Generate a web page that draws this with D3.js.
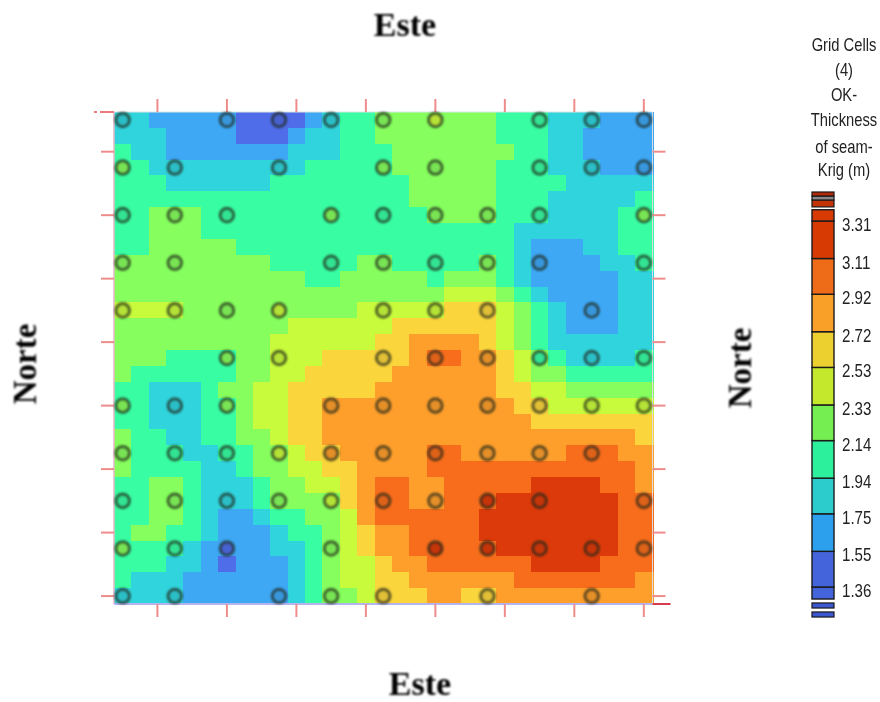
<!DOCTYPE html>
<html>
<head>
<meta charset="utf-8">
<script src="https://cdn.jsdelivr.net/npm/d3@7"></script>
<style>
  html, body { margin: 0; background: #fff; }
  svg { display: block; }
  .soft { filter: blur(0.45px); }
  .softer { filter: blur(0.8px); }
</style>
</head>
<body>
<svg width="880" height="702"></svg>
<script>
// legend class breaks (m)
const breaks = [1.55, 1.75, 1.94, 2.14, 2.33, 2.53, 2.72, 2.92, 3.11];
const legendLabels = [3.31, 3.11, 2.92, 2.72, 2.53, 2.33, 2.14, 1.94, 1.75, 1.55, 1.36];
const classMid = [1.46, 1.65, 1.85, 2.04, 2.24, 2.43, 2.63, 2.82, 3.02, 3.21];
const classColors = ["#4f6de8", "#3ea8f5", "#30d4dc", "#38fda2", "#86fe5e", "#c8fb3c", "#fad53c", "#fe9f2c", "#f86d1c", "#dc3a0a"];
const legendColors = ["#4464dc", "#2ca0ec", "#2ccccc", "#2cf09c", "#74ee50", "#c4e82c", "#ecd030", "#f8a028", "#ee6c18", "#d83a04"];
const legendTitle = ["Grid Cells", "(4)", "OK-", "Thickness", "of seam-", "Krig (m)"];

// kriged grid, one character per cell = class index into classMid
const thicknessRows = [
  "2211111000012334444444333222111",
  "2221111000122334444444333221111",
  "3221111111222333444444433221111",
  "3322222222233333444444333222111",
  "3332222223333333344444333322222",
  "3333333333333333344444333222223",
  "3344433333333333334444333222233",
  "3344433333333333333333322222233",
  "3344444333333333333333321112233",
  "4444444443333344333334321111223",
  "4444444444433444443444321111122",
  "4444444444444444444555432111122",
  "5555444444444455555666543211122",
  "4444444444555555666666543211122",
  "4444444445555556677776543222222",
  "4443333445556666678877654322223",
  "4333333445566666777777654433333",
  "3322234455666667777777665544444",
  "3322233455667777777777766555555",
  "3322233455667777777777776666666",
  "4332233445667777777777777777776",
  "4333223344566777778877777788877",
  "4333322344556677778888888888887",
  "3344322234455678877888889999887",
  "3344322234444678877888999999988",
  "3344321123344578888889999999988",
  "3443321112334567788889999999988",
  "3333211112234567788888999999988",
  "3332210111234556778888889999888",
  "3222111111234556677777788888887",
  "2222111111234456667766777777777"
];

// sample holes every third cell, "." where there is none
const holeStep = 3;
const holeRows = [
  "2.10245.321",
  "42.2.44.321",
  "343.43443.4",
  "44..34341.3",
  "5545.556.1.",
  "..45.687323",
  "424.7777655",
  "4335778778.",
  "342458799.8",
  "430.4.99998",
  "22.146.6.7."
];

const tickCells = [2, 6, 10, 14, 18, 22, 26, 30];

const svg = d3.select("svg");
const cells = d3.range(31);
const x = d3.scaleBand().domain(cells).range([114, 652.5]);
const y = d3.scaleBand().domain(cells).range([112, 604]);
const color = d3.scaleThreshold().domain(breaks).range(classColors);
const legendColor = d3.scaleThreshold().domain(breaks).range(legendColors);

// flatten rows to cells with a thickness value
const grid = thicknessRows.flatMap((row, r) =>
  row.split("").map((c, col) => ({ col: col, row: r, value: classMid[+c] })));

const holes = holeRows.flatMap((row, r) =>
  row.split("").map((c, i) => ({ col: i * holeStep, row: r * holeStep, c: c })))
  .filter(d => d.c != ".")
  .map(d => ({ col: d.col, row: d.row, value: classMid[+d.c] }));

svg.append("g").attr("class", "soft").selectAll("rect")
  .data(grid).enter()
  .append("rect")
    .attr("x", d => x(d.col))
    .attr("y", d => y(d.row))
    .attr("width", x.bandwidth() + 1)
    .attr("height", y.bandwidth() + 1)
    .attr("shape-rendering", "crispEdges")
    .attr("fill", d => color(d.value));

// frame edges
const frame = svg.append("g").attr("class", "soft");
frame.append("line").attr("x1", x.range()[0]).attr("x2", x.range()[0]).attr("y1", y.range()[0]).attr("y2", y.range()[1])
  .attr("stroke", "#e6b6c8").attr("stroke-width", 1.5);
frame.append("line").attr("x1", x.range()[0]).attr("x2", x.range()[1]).attr("y1", y.range()[1]).attr("y2", y.range()[1])
  .attr("stroke", "#b4b4ee").attr("stroke-width", 2);
frame.append("line").attr("x1", x.range()[0]).attr("x2", x.range()[1]).attr("y1", y.range()[0]).attr("y2", y.range()[0])
  .attr("stroke", "#d8e6e6").attr("stroke-width", 1);
frame.append("line").attr("x1", x.range()[1]).attr("x2", x.range()[1]).attr("y1", y.range()[0]).attr("y2", y.range()[1])
  .attr("stroke", "#dcdce0").attr("stroke-width", 1);

// axes carry ticks only, no labels
function tickAxis(axis, tx, ty) {
  const g = svg.append("g")
    .attr("class", "soft")
    .attr("transform", "translate(" + tx + "," + ty + ")")
    .call(axis.tickValues(tickCells).tickFormat("").tickSize(13));
  g.select(".domain").remove();
  g.selectAll("line").attr("stroke", "#ee8c8c").attr("stroke-width", 2);
}
tickAxis(d3.axisTop(x), 0, y.range()[0]);
tickAxis(d3.axisBottom(x), 0, y.range()[1]);
tickAxis(d3.axisLeft(y), x.range()[0], 0);
tickAxis(d3.axisRight(y), x.range()[1], 0);

// the two corner ticks
frame.append("line").attr("x1", x.range()[0] - 20).attr("x2", x.range()[0]).attr("y1", y.range()[0]).attr("y2", y.range()[0])
  .attr("stroke", "#ee7c7c").attr("stroke-width", 2).attr("stroke-dasharray", "3 3 14");
frame.append("line").attr("x1", x.range()[1]).attr("x2", x.range()[1] + 18).attr("y1", y.range()[1]).attr("y2", y.range()[1])
  .attr("stroke", "#d83c50").attr("stroke-width", 2);

svg.append("g").attr("class", "softer").selectAll("circle")
  .data(holes).enter()
  .append("circle")
    .attr("cx", d => x(d.col) + x.bandwidth() / 2)
    .attr("cy", d => y(d.row) + y.bandwidth() / 2)
    .attr("r", 6.8)
    .attr("fill", d => d3.color(color(d.value)).darker(0.3))
    .attr("stroke", "#22281a")
    .attr("stroke-opacity", 0.68)
    .attr("stroke-width", 3);

// titles
const serif = "'Liberation Serif', 'Times New Roman', serif";
const titles = svg.append("g").attr("class", "softer");
titles.append("text").attr("x", 405).attr("y", 36).attr("text-anchor", "middle")
  .style("font", "bold 34px " + serif).text("Este");
titles.append("text").attr("x", 420).attr("y", 694.5).attr("text-anchor", "middle")
  .style("font", "bold 34px " + serif).text("Este");
titles.append("text").attr("transform", "translate(36,364) rotate(-90)").attr("text-anchor", "middle")
  .style("font", "bold 33px " + serif).text("Norte");
titles.append("text").attr("transform", "translate(751,368) rotate(-90)").attr("text-anchor", "middle")
  .style("font", "bold 33px " + serif).text("Norte");

// legend
const legendX = 812, legendW = 22;
const legendY = d3.scaleLinear().domain([1.36, 3.31]).range([587, 221]);
const sans = "'Liberation Sans', Arial, sans-serif";
const legend = svg.append("g").attr("class", "soft");

// legend text in the picture is tall and narrow, squeeze it sideways
const legendTitleY = [45, 70, 95, 120, 147, 170];
legend.append("g").selectAll("text")
  .data(legendTitle).enter()
  .append("text")
    .attr("transform", (d, i) => "translate(844," + (legendTitleY[i] + 6) + ") scale(0.82,1)")
    .attr("text-anchor", "middle")
    .attr("fill", "#222")
    .style("font", "18px " + sans)
    .text(d => d);

// bands: lower edge, upper edge
const bandEdges = [1.296].concat(legendLabels.slice().reverse()).concat([3.37]);
const bands = d3.pairs(bandEdges).map(p => ({ lo: p[0], hi: p[1] }));

legend.append("g").selectAll("rect")
  .data(bands).enter()
  .append("rect")
    .attr("x", legendX)
    .attr("y", d => legendY(d.hi))
    .attr("width", legendW)
    .attr("height", d => legendY(d.lo) - legendY(d.hi))
    .attr("fill", d => legendColor((d.lo + d.hi) / 2))
    .attr("stroke", "#1a1a1a")
    .attr("stroke-width", 1.4);

// overflow strips above and below the bar: [lower value, upper value, colour]
const topStrips = [[3.385, 3.422, "#c43208"], [3.422, 3.443, "#888888"], [3.443, 3.4645, "#b02a08"]];
const bottomStrips = [[1.248, 1.275, "#3c58d0"], [1.20, 1.227, "#3c58d0"]];
legend.append("g").selectAll("rect")
  .data(topStrips.concat(bottomStrips)).enter()
  .append("rect")
    .attr("x", legendX)
    .attr("y", d => legendY(d[1]))
    .attr("width", legendW)
    .attr("height", d => legendY(d[0]) - legendY(d[1]))
    .attr("fill", d => d[2])
    .attr("stroke", "#1a1a1a")
    .attr("stroke-width", 1.2);

legend.append("g").selectAll("text")
  .data(legendLabels).enter()
  .append("text")
    .attr("transform", d => "translate(842," + (legendY(d) + 10) + ") scale(0.84,1)")
    .attr("fill", "#222")
    .style("font", "18px " + sans)
    .text(d => d.toFixed(2));
</script>
</body>
</html>
